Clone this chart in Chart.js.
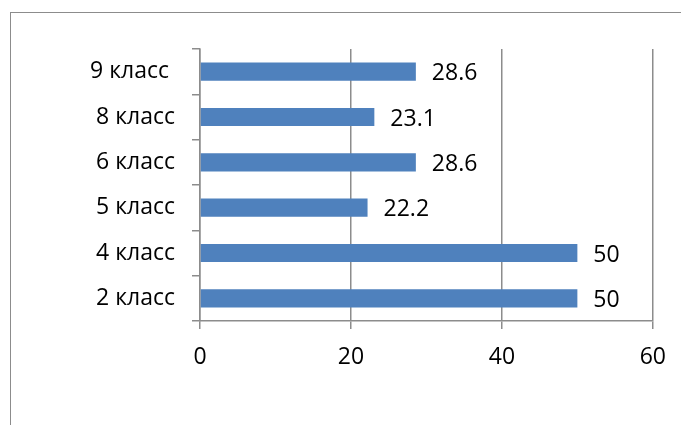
<!DOCTYPE html>
<html><head><meta charset="utf-8">
<script src="https://cdn.jsdelivr.net/npm/chart.js@4"></script>
<style>
html,body{margin:0;padding:0;background:#fff;}
#wrap{position:relative;width:681px;height:425px;overflow:hidden;}
#frame{position:absolute;left:10px;top:12px;width:800px;height:600px;border-left:1.5px solid #8c8c8c;border-top:1.5px solid #8c8c8c;}
canvas{position:absolute;left:0;top:0;}
</style></head>
<body><div id="wrap"><div id="frame"></div><canvas id="c" width="681" height="425"></canvas></div>
<script>
const categories = ["9 класс ", "8 класс", "6 класс", "5 класс", "4 класс", "2 класс"];
const values = [28.6, 23.1, 28.6, 22.2, 50, 50];
const xTicks = [0, 20, 40, 60];

const FONT = "'Open Sans', 'Liberation Sans', sans-serif";
const FS = 23;
const labelPlugin = {
  id: 'vals',
  afterDatasetsDraw(chart) {
    const ctx = chart.ctx;
    const meta = chart.getDatasetMeta(0);
    ctx.save();
    ctx.font = FS + "px " + FONT;
    ctx.fillStyle = "#000";
    ctx.textBaseline = "middle";
    ctx.textAlign = "left";
    meta.data.forEach((bar, i) => {
      ctx.fillText(String(values[i]), bar.x + 16, bar.y + 2);
    });
    ctx.restore();
  }
};

new Chart(document.getElementById('c'), {
  type: 'bar',
  data: { labels: categories, datasets: [{ data: values, backgroundColor: '#4F81BD', barPercentage: 0.4, categoryPercentage: 1 }] },
  options: {
    indexAxis: 'y', responsive: false, animation: false,
    layout: { padding: { top: 49, right: 28, left: 0, bottom: 0 } },
    plugins: { legend: { display: false }, tooltip: { enabled: false } },
    scales: {
      x: {
        min: 0, max: 60,
        afterBuildTicks(s) { s.ticks = xTicks.map(v => ({ value: v })); },
        afterFit(s) { s.height = 104; },
        grid: { color: '#8c8c8c', lineWidth: 1.5, tickLength: 8 },
        border: { color: '#8c8c8c', width: 1.5 },
        ticks: { color: '#000', font: { size: FS, family: FONT }, padding: 15 }
      },
      y: {
        afterFit(s) { s.width = 200; },
        grid: { drawOnChartArea: false, color: '#8c8c8c', lineWidth: 1.5, tickLength: 8, offset: true },
        border: { color: '#8c8c8c', width: 1.5 },
        ticks: { color: '#000', font: { size: FS, family: FONT }, padding: 17 }
      }
    }
  },
  plugins: [labelPlugin]
});
</script></body></html>
